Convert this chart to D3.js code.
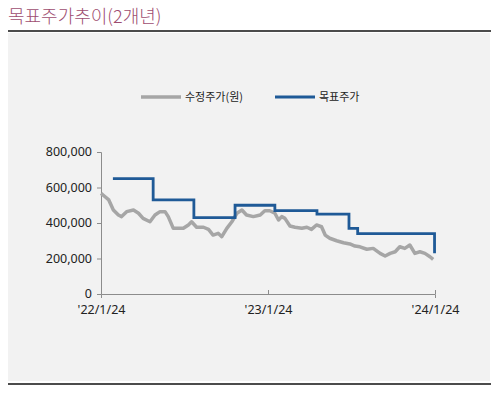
<!DOCTYPE html>
<html><head><meta charset="utf-8">
<script src="https://cdn.jsdelivr.net/npm/d3@7"></script>
<style>body{margin:0;background:#fff}svg{display:block}</style>
</head><body>
<script>
const priceDates = ["2022-01-24","2022-02-02","2022-02-10","2022-02-20","2022-03-03","2022-03-10","2022-03-21","2022-04-05","2022-04-16","2022-04-26","2022-05-11","2022-05-22","2022-06-02","2022-06-13","2022-06-20","2022-07-01","2022-07-12","2022-07-23","2022-08-03","2022-08-10","2022-08-21","2022-09-05","2022-09-16","2022-09-26","2022-10-07","2022-10-15","2022-10-26","2022-11-06","2022-11-17","2022-11-28","2022-12-08","2022-12-23","2023-01-07","2023-01-17","2023-01-28","2023-02-08","2023-02-16","2023-02-23","2023-03-02","2023-03-13","2023-03-24","2023-04-08","2023-04-19","2023-04-29","2023-05-10","2023-05-21","2023-05-29","2023-06-08","2023-06-23","2023-07-08","2023-07-22","2023-08-02","2023-08-13","2023-08-28","2023-09-11","2023-09-26","2023-10-07","2023-10-18","2023-10-29","2023-11-08","2023-11-19","2023-11-30","2023-12-11","2023-12-22","2024-01-02","2024-01-13","2024-01-20"];
const priceValues = [567000,548000,530000,473000,445000,436000,464000,473000,455000,426000,407000,445000,464000,464000,436000,370000,370000,370000,389000,407000,376000,376000,364000,332000,342000,323000,370000,407000,455000,473000,445000,436000,445000,469000,469000,455000,417000,436000,426000,383000,376000,370000,376000,364000,389000,379000,332000,314000,300000,289000,282000,270000,266000,252000,257000,229000,214000,229000,238000,266000,257000,276000,229000,238000,229000,210000,195000];
const targetDates = ["2022-02-19","2022-05-18","2022-08-15","2022-11-13","2023-02-08","2023-05-11","2023-07-20","2023-08-08","2024-01-23"];
const targetValues = [650000,530000,430000,500000,470000,450000,370000,340000,230000];
const yTicks = [0,200000,400000,600000,800000];
const xTickDates = ["2022-01-24","2023-01-24","2024-01-24"];
const xTickLabels = ["'22/1/24","'23/1/24","'24/1/24"];
const seriesNames = ["수정주가(원)","목표주가"];
const title = "목표주가추이(2개년)";

const W=500,H=394;
const parse=d3.timeParse("%Y-%m-%d");
const svg=d3.select("body").append("svg").attr("width",W).attr("height",H);
const font="'Noto Sans CJK KR','Noto Sans',sans-serif";

svg.append("text").attr("x",8).attr("y",23).attr("fill","#9e4d70")
  .style("font-family",font).style("font-size","18px").style("font-weight","300").text(title);
svg.append("rect").attr("x",8).attr("y",33).attr("width",482).attr("height",348).attr("fill","#f2f2f2");
svg.append("line").attr("x1",8).attr("x2",491).attr("y1",31).attr("y2",31).attr("stroke","#111").attr("stroke-width",1.6);
svg.append("line").attr("x1",8).attr("x2",491).attr("y1",384).attr("y2",384).attr("stroke","#111").attr("stroke-width",1.6);

const x=d3.scaleTime().domain([parse(xTickDates[0]),parse(xTickDates[2])]).range([101,435]);
const y=d3.scaleLinear().domain([0,800000]).range([294,152]);

const yAxis=svg.append("g").attr("transform","translate(101,0)")
  .call(d3.axisLeft(y).tickValues(yTicks).tickSize(4).tickPadding(5).tickFormat(d3.format(",")));
const xAxis=svg.append("g").attr("transform","translate(0,294)")
  .call(d3.axisBottom(x).tickValues(xTickDates.map(parse)).tickSize(4).tickPadding(8).tickFormat((d,i)=>xTickLabels[i]));
[yAxis,xAxis].forEach(g=>{
  g.select(".domain").attr("stroke","#8c8c8c");
  g.selectAll(".tick line").attr("stroke","#8c8c8c");
  g.selectAll("text").attr("fill","#222").style("font-family","'Noto Sans',sans-serif").style("font-size","12.5px");
});
xAxis.selectAll(".tick line").attr("y2",-4);
yAxis.selectAll(".tick text").attr("dy","0.3em");
xAxis.selectAll(".tick text").attr("dy","0.65em");

const priceData=priceDates.map((d,i)=>({d:parse(d),v:priceValues[i]}));
const targetData=targetDates.map((d,i)=>({d:parse(d),v:targetValues[i]}));

svg.append("path").datum(priceData).attr("fill","none").attr("stroke","#a6a6a6").attr("stroke-width",3.5)
  .attr("stroke-linejoin","round")
  .attr("d",d3.line().x(p=>x(p.d)).y(p=>y(p.v)));
svg.append("path").datum(targetData).attr("fill","none").attr("stroke","#1f5a97").attr("stroke-width",2.8)
  .attr("d",d3.line().curve(d3.curveStepAfter).x(p=>x(p.d)).y(p=>y(p.v)));

const leg=[{x:141,c:"#a6a6a6",w:3.5},{x:275,c:"#1f5a97",w:2.8}];
leg.forEach((l,i)=>{
  svg.append("line").attr("x1",l.x).attr("x2",l.x+40).attr("y1",97).attr("y2",97).attr("stroke",l.c).attr("stroke-width",l.w);
  svg.append("text").attr("x",l.x+44).attr("y",101).attr("fill","#222").style("font-family",font).style("font-size","11px").text(seriesNames[i]);
});
</script>
</body></html>
